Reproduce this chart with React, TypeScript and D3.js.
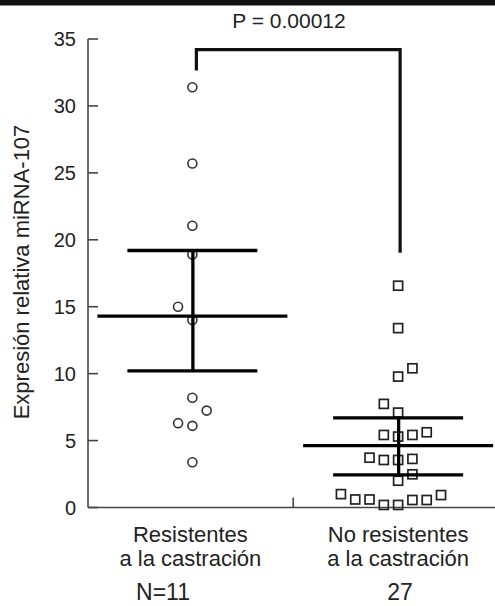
import React from "react";
import * as d3 from "d3";

const groups = ["Resistentes", "No resistentes"];
const groupLabels = [["Resistentes", "a la castración"], ["No resistentes", "a la castración"]];
const groupN = ["N=11", "27"];
const yTicks = [0, 5, 10, 15, 20, 25, 30, 35];

// Resistentes: values and beeswarm slot
const resValues = [31.4, 25.7, 21.05, 18.9, 15.0, 14.0, 8.2, 7.24, 6.3, 6.1, 3.38];
const resSlots = [0, 0, 0, 0, -1, 0, 0, 1, -1, 0, 0];
// No resistentes
const noValues = [16.57, 13.4, 9.78, 10.4, 7.74, 7.09, 5.42, 5.3, 5.42, 5.62, 3.72, 3.55, 3.55, 3.63, 2.48, 2.0, 1.0, 0.6, 0.6, 0.19, 0.19, 0.56, 0.56, 0.93];
const noSlots = [0, 0, 0, 1, -1, 0, -1, 0, 1, 2, -2, -1, 0, 1, 1, 0, -4, -3, -2, -1, 0, 1, 2, 3];

const means = [14.3, 4.62];
const semHigh = [19.2, 6.7];
const semLow = [10.2, 2.43];
const bracketLevels = [32.65, 34.2, 19.03];
const pLabel = "P = 0.00012";
const yLabel = "Expresión relativa miRNA-107";

const W = 495;
const H = 606;

export default function App() {
  const y = d3.scaleLinear().domain([0, 35]).range([507.5, 39]);
  const x = d3.scalePoint<string>().domain(groups).range([89.5, 501]).padding(0.5);
  const slotW = 14.3;
  const axisX = 88;
  const axisY = y(0);
  const font = "Arial, 'Liberation Sans', sans-serif";
  const cx0 = x(groups[0])!;
  const cx1 = x(groups[1])!;
  const meanHalf = 95;
  const capHalf = 65;

  return (
    <svg width={W} height={H} style={{ position: "absolute", left: 0, top: 0, background: "#fff" }} fontFamily={font}>
      <rect x={0} y={0} width={W} height={5} fill="#111" />
      <line x1={0} x2={W} y1={5.5} y2={5.5} stroke="#888" strokeWidth={1} />

      {/* axes */}
      <line x1={axisX} x2={axisX} y1={y(35)} y2={axisY} stroke="#444" strokeWidth={1.6} />
      <line x1={axisX} x2={W} y1={axisY} y2={axisY} stroke="#444" strokeWidth={1.6} />
      {yTicks.map((t) => (
        <g key={t}>
          <line x1={axisX} x2={axisX + 10} y1={y(t)} y2={y(t)} stroke="#444" strokeWidth={1.6} />
          <text x={76} y={y(t)} dy="0.36em" textAnchor="end" fontSize={20} fill="#222">{t}</text>
        </g>
      ))}
      <line x1={(cx0 + cx1) / 2 - 2} x2={(cx0 + cx1) / 2 - 2} y1={axisY} y2={axisY - 10} stroke="#444" strokeWidth={1.6} />

      <text transform={`translate(29,272) rotate(-90)`} textAnchor="middle" fontSize={22} fill="#222">{yLabel}</text>

      {/* bracket */}
      <path
        d={`M${cx0 + 4},${y(bracketLevels[0])} V${y(bracketLevels[1])} H${cx1 + 2} V${y(bracketLevels[2])}`}
        fill="none" stroke="#111" strokeWidth={3.2}
      />
      <text x={289} y={28} textAnchor="middle" fontSize={21} fill="#222">{pLabel}</text>

      {/* points */}
      {resValues.map((v, i) => (
        <circle key={"r" + i} cx={cx0 + resSlots[i] * slotW} cy={y(v)} r={4.5} fill="#fff" stroke="#333" strokeWidth={1.6} />
      ))}
      {noValues.map((v, i) => (
        <rect key={"n" + i} x={cx1 + noSlots[i] * slotW - 4.5} y={y(v) - 4.5} width={9} height={9} fill="none" stroke="#222" strokeWidth={1.7} />
      ))}

      {/* mean and sem */}
      {[cx0, cx1].map((cx, i) => (
        <g key={"m" + i} stroke="#000" strokeWidth={3.3}>
          <line x1={cx - meanHalf} x2={cx + meanHalf} y1={y(means[i])} y2={y(means[i])} />
          <line x1={cx - capHalf} x2={cx + capHalf} y1={y(semHigh[i])} y2={y(semHigh[i])} />
          <line x1={cx - capHalf} x2={cx + capHalf} y1={y(semLow[i])} y2={y(semLow[i])} />
          <line x1={cx + 0.5} x2={cx + 0.5} y1={y(semHigh[i])} y2={y(semLow[i])} />
        </g>
      ))}

      {/* category labels */}
      {groups.map((g, i) => (
        <g key={g}>
          <text x={(i === 0 ? cx0 - 2 : cx1)} y={541.5} textAnchor="middle" fontSize={22} fill="#222">{groupLabels[i][0]}</text>
          <text x={(i === 0 ? cx0 - 2 : cx1)} y={566} textAnchor="middle" fontSize={22} fill="#222">{groupLabels[i][1]}</text>
        </g>
      ))}
      <text x={163} y={600} textAnchor="middle" fontSize={23} fill="#222">{groupN[0]}</text>
      <text x={400} y={600} textAnchor="middle" fontSize={23} fill="#222">{groupN[1]}</text>
    </svg>
  );
}
